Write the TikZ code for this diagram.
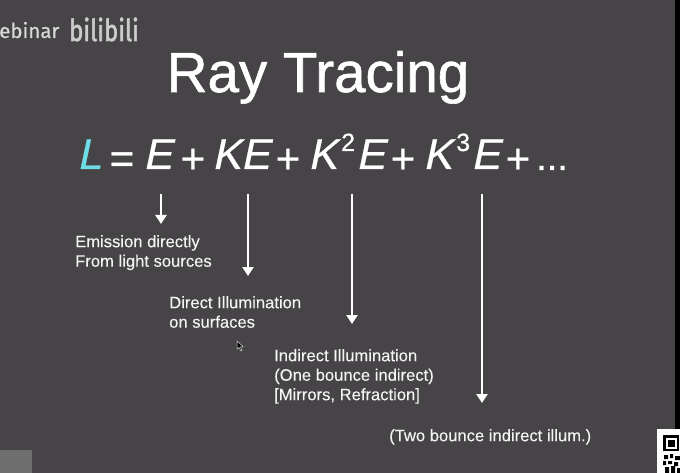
\documentclass[tikz,border=0pt]{standalone}
\usepackage{fontspec}
\setmainfont{Liberation Sans}
\newfontfamily\bilifont[FakeBold=0.6]{Fira Sans}
\newfontfamily\logofont[FakeBold=2.2]{Fira Sans}
\newfontfamily\boldishfont[FakeBold=1.1]{Liberation Sans}
\newfontfamily\eqfont[FakeBold=0.6,FakeSlant=0.21]{Liberation Sans}
\newfontfamily\oprfont[FakeBold=0.8]{Liberation Sans}
\newfontfamily\capfont[FakeBold=0.15]{Liberation Sans}
\usetikzlibrary{arrows.meta}
\definecolor{bgc}{HTML}{464446}
\definecolor{cyanL}{HTML}{6FDDE6}
\definecolor{capc}{HTML}{F4F4F4}
\tikzset{
  term/.style={anchor=base west,inner sep=0pt,text=white,font=\fontsize{43}{43}\selectfont\eqfont},
  oper/.style={anchor=base west,inner sep=0pt,text=white,font=\fontsize{42}{42}\selectfont\oprfont},
  sup/.style={anchor=base west,inner sep=0pt,text=white,font=\fontsize{25}{25}\selectfont\oprfont},
  caption/.style={anchor=north west,inner sep=0pt,align=left,text=capc,font=\fontsize{16.6}{19.5}\selectfont\capfont},
  down/.style={white,line width=2.8pt,-{Triangle[width=11pt,length=9pt]}}
}
\begin{document}
\begin{tikzpicture}[x=1pt,y=-1pt]
\useasboundingbox (0,0) rectangle (680,473);
\fill[bgc] (0,0) rectangle (680,473);
\fill[black] (675,0) rectangle (680,429);
\fill[white] (657,429) rectangle (680,473);
\fill[black] (663,435) rectangle (679,451);
\fill[white] (665.5,437.5) rectangle (676.5,448.5);
\fill[black] (667.5,439.5) rectangle (674.5,446.5);
\fill[black] (664,455) rectangle (668,459) (670,454) rectangle (673,458) (675,456) rectangle (680,460)
 (663,461) rectangle (666,465) (668,461) rectangle (672,464) (674,462) rectangle (678,466)
 (665,467) rectangle (669,473) (671,466) rectangle (675,473) (677,468) rectangle (680,473);
\fill[gray!70!bgc] (0,450) rectangle (32,473);
% cursor
\fill[black,draw=white!85!black,line width=.5pt] (237,341) -- (237,349) -- (239,347.5) -- (241,351) -- (242,350.5) -- (240.5,347) -- (243,346.5) -- cycle;

\node[anchor=base west,inner sep=0pt,text=white!85!black,font=\fontsize{20.5}{20.5}\selectfont\bilifont] (web) at (-1,38) {ebinar};
\node[anchor=base west,inner sep=0pt,text=white!80!black,font=\fontsize{24}{24}\selectfont\logofont] (bili) at (69,41) {\scalebox{1.0}[1.25]{bilibili}};

\node[anchor=base,inner sep=0pt,text=white,font=\fontsize{56.5}{56.5}\selectfont\boldishfont] (title) at (318,92) {Ray Tracing};

\node[term,text=cyanL] (tL) at (77,169) {L};
\node[oper] (eq) at (109.5,173) {=};
\node[term] (tE0) at (143,169) {E};
\node[oper] (p1) at (180.5,173) {+};
\node[term] (tK1) at (212,169) {KE};
\node[oper] (p2) at (275.5,173) {+};
\node[term] (tK2) at (308,169) {K};
\node[sup] (s2) at (341,151) {2};
\node[term] (tE2) at (356,169) {E};
\node[oper] (p3) at (390.5,173) {+};
\node[term] (tK3) at (423,169) {K};
\node[sup] (s3) at (456,151) {3};
\node[term] (tE3) at (471,169) {E};
\node[oper] (p4) at (505.5,173) {+};
\node[oper,font=\fontsize{38}{38}\selectfont\oprfont] (dots) at (536,170) {...};

\coordinate (a0) at (161,194); \coordinate (b0) at (161,224);
\coordinate (a1) at (248,194); \coordinate (b1) at (248,276);
\coordinate (a2) at (352,194); \coordinate (b2) at (352,324);
\coordinate (a3) at (482,194); \coordinate (b3) at (482,403);
\draw[down] (a0) -- (b0);
\draw[down] (a1) -- (b1);
\draw[down] (a2) -- (b2);
\draw[down] (a3) -- (b3);

\node[caption] (c0) at (75,235) {Emission directly\\From light sources};
\node[caption] (c1) at (169,296) {Direct Illumination\\on surfaces};
\node[caption] (c2) at (274,349) {Indirect Illumination\\(One bounce indirect)\\{[Mirrors, Refraction]}};
\node[caption] (c3) at (389,429) {(Two bounce indirect illum.)};
\end{tikzpicture}
\end{document}
